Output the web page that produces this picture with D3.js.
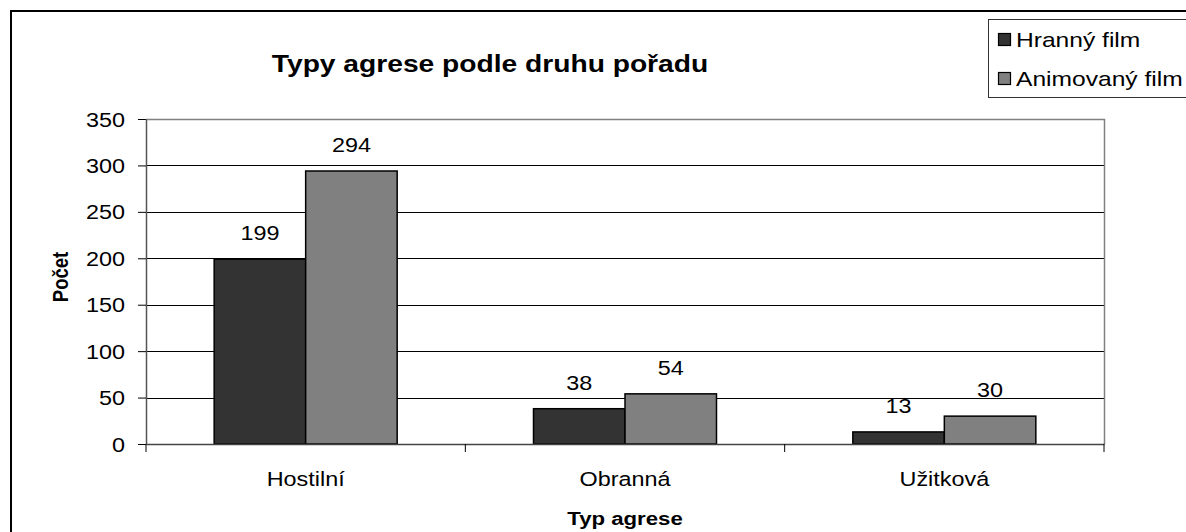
<!DOCTYPE html>
<html>
<head>
<meta charset="utf-8">
<script src="https://cdn.jsdelivr.net/npm/d3@7"></script>
<style>
  html, body { margin: 0; padding: 0; background: #fff; }
  svg { display: block; }
  text { font-family: "Liberation Sans", Arial, sans-serif; fill: #000; }
</style>
</head>
<body>
<svg id="chart" width="1186" height="532"></svg>
<script>
const categories = ["Hostilní", "Obranná", "Užitková"];
const seriesNames = ["Hranný film", "Animovaný film"];
const hrannyValues = [199, 38, 13];
const animovanyValues = [294, 54, 30];
const yTicks = [0, 50, 100, 150, 200, 250, 300, 350];
const titleText = "Typy agrese podle druhu pořadu";
const yTitle = "Počet";
const xTitle = "Typ agrese";
const colors = ["#333333", "#808080"];

const SX = 1.2; // horizontal stretch of text in the reference
const svg = d3.select("#chart");
const plot = { left: 146, right: 1104, top: 119, bottom: 444 };

function stretchText(sel, x, y) {
  sel.attr("x", 0).attr("y", 0).attr("transform", `translate(${x},${y}) scale(${SX},1)`);
  return sel;
}

// outer frame
svg.append("rect").attr("x", 11).attr("y", 11).attr("width", 1300).attr("height", 700)
  .attr("fill", "#fff").attr("stroke", "#000").attr("stroke-width", 2);

const y = d3.scaleLinear().domain([0, 350]).range([plot.bottom, plot.top]);
const x0 = d3.scaleBand().domain(categories).range([plot.left, plot.right]).padding(0);
const x1 = d3.scaleBand().domain(seriesNames).range([0, x0.bandwidth()]).paddingInner(0).paddingOuter(0.745);

// gridlines
svg.append("g").selectAll("line").data(yTicks.filter(t => t > 0 && t < 350)).join("line")
  .attr("x1", plot.left).attr("x2", plot.right)
  .attr("y1", d => Math.round(y(d)) + 0.5).attr("y2", d => Math.round(y(d)) + 0.5)
  .attr("stroke", "#000").attr("stroke-width", 1);

// plot border (top & right)
svg.append("path")
  .attr("d", `M${plot.left},${plot.top + 0.5}H${plot.right + 0.5}V${plot.bottom}`)
  .attr("fill", "none").attr("stroke", "#808080").attr("stroke-width", 1.5);

// bars
const data = categories.map((c, i) => ({ cat: c, vals: [hrannyValues[i], animovanyValues[i]] }));
const groups = svg.append("g").selectAll("g").data(data).join("g")
  .attr("transform", d => `translate(${x0(d.cat)},0)`);
groups.selectAll("rect").data(d => d.vals.map((v, j) => ({ v, s: seriesNames[j], j }))).join("rect")
  .attr("x", d => x1(d.s)).attr("width", x1.bandwidth())
  .attr("y", d => y(d.v)).attr("height", d => y(0) - y(d.v))
  .attr("fill", d => colors[d.j]).attr("stroke", "#000").attr("stroke-width", 1.5);
groups.selectAll("text").data(d => d.vals.map((v, j) => ({ v, s: seriesNames[j], j }))).join("text")
  .attr("text-anchor", "middle").style("font-size", "19.5px")
  .text(d => d.v)
  .each(function (d) { stretchText(d3.select(this), x1(d.s) + x1.bandwidth() / 2, y(d.v) - 19); });

// y axis
const yAxis = svg.append("g").attr("transform", `translate(${plot.left},0)`)
  .call(d3.axisLeft(y).tickValues(yTicks).tickSize(8).tickSizeOuter(0));
yAxis.select(".domain").attr("stroke", "#555").attr("stroke-width", 1.5);
yAxis.selectAll(".tick line").attr("stroke", "#000");
yAxis.selectAll(".tick text").style("font-size", "19.5px").attr("x", 0).attr("dy", "0.36em")
  .attr("transform", `translate(-21,0) scale(${SX},1)`);

// x axis
const xAxis = svg.append("g").attr("transform", `translate(0,${plot.bottom})`)
  .call(d3.axisBottom(x0).tickSize(0).tickSizeOuter(0));
xAxis.select(".domain").attr("stroke", "#444").attr("stroke-width", 1.5);
xAxis.selectAll(".tick text").style("font-size", "19.5px").attr("y", 0).attr("dy", 0)
  .attr("transform", `translate(0,42) scale(${SX},1)`);
// category boundary ticks
const bounds = categories.map(c => x0(c)).concat([x0(categories[categories.length - 1]) + x0.bandwidth()]);
svg.append("g").selectAll("line").data(bounds).join("line")
  .attr("x1", d => d).attr("x2", d => d)
  .attr("y1", plot.bottom).attr("y2", plot.bottom + 8)
  .attr("stroke", "#000").attr("stroke-width", 1);

// titles
stretchText(svg.append("text").attr("text-anchor", "middle").style("font-size", "23.5px")
  .style("font-weight", "bold").text(titleText), 490, 72);
stretchText(svg.append("text").attr("text-anchor", "middle").style("font-size", "18.5px")
  .style("font-weight", "bold").text(xTitle), 625, 525);
svg.append("text").attr("text-anchor", "middle").style("font-size", "18.5px")
  .style("font-weight", "bold").text(yTitle)
  .attr("transform", `translate(68,277) scale(${SX},1) rotate(-90)`);

// legend
const lg = svg.append("g");
lg.append("rect").attr("x", 988.5).attr("y", 19.5).attr("width", 260).attr("height", 78)
  .attr("fill", "#fff").attr("stroke", "#333").attr("stroke-width", 1);
seriesNames.forEach((s, i) => {
  const cy = 40 + i * 39;
  lg.append("rect").attr("x", 998.5).attr("y", cy - 6.5).attr("width", 12).attr("height", 12)
    .attr("fill", colors[i]).attr("stroke", "#000").attr("stroke-width", 1.2);
  stretchText(lg.append("text").style("font-size", "20.5px").text(s), 1016, cy + 7);
});
</script>
</body>
</html>
